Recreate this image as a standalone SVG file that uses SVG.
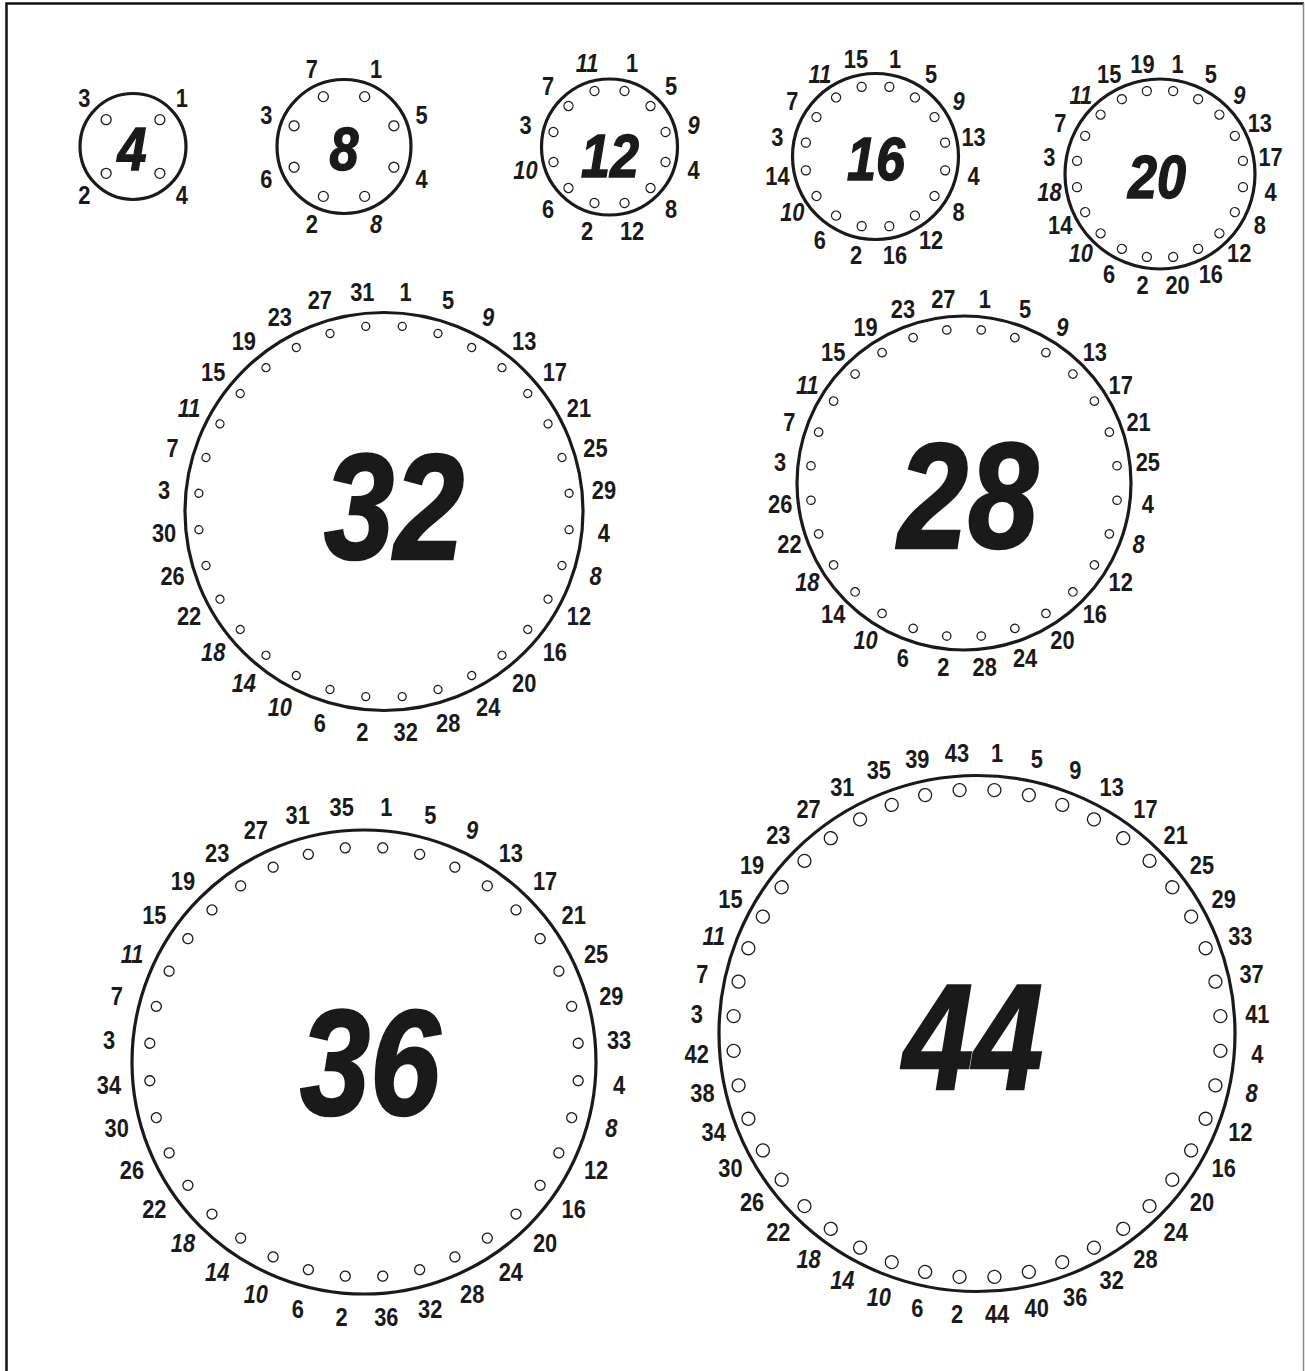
<svg xmlns="http://www.w3.org/2000/svg" width="1305" height="1371" viewBox="0 0 1305 1371">
<style>
.ring{fill:none;stroke:#1a1a1a;stroke-width:3.2}
.h{fill:none;stroke:#1a1a1a;stroke-width:1.3}
.l{font-family:"Liberation Sans",Arial,sans-serif;font-weight:bold;font-size:26px;fill:#1a1a1a;text-anchor:middle;dominant-baseline:central}
.i{font-style:italic}
.big{font-family:"Liberation Sans",Arial,sans-serif;font-weight:bold;font-style:italic;fill:#1a1a1a;stroke:#1a1a1a;stroke-width:1.5;text-anchor:middle}
.s{font-size:62px}
.b{font-size:150px;stroke-width:2.5}
</style>
<rect width="1305" height="1371" fill="#fff"/>
<path d="M6.5,1371 V3.5 H1304" fill="none" stroke="#111" stroke-width="2.5"/>
<path d="M1303.5,3 V1371" fill="none" stroke="#888" stroke-width="1.5"/>

<g id="c4" transform="translate(133,146.5)">
<circle class="ring" r="53"/>
<circle class="h" r="5" cy="-38" transform="rotate(45)"/><circle class="h" r="5" cy="-38" transform="rotate(135)"/><circle class="h" r="5" cy="-38" transform="rotate(225)"/><circle class="h" r="5" cy="-38" transform="rotate(315)"/>
<text class="l" transform="rotate(45) translate(0,-69) rotate(-45) scale(.84,1)">1</text>
<text class="l" transform="rotate(135) translate(0,-69) rotate(-135) scale(.84,1)">4</text>
<text class="l" transform="rotate(225) translate(0,-69) rotate(-225) scale(.84,1)">2</text>
<text class="l" transform="rotate(315) translate(0,-69) rotate(-315) scale(.84,1)">3</text>
<text class="big s" transform="translate(-1,23) scale(.84,1)">4</text>
</g>

<g id="c8" transform="translate(344,146.5)">
<circle class="ring" r="67"/>
<circle class="h" r="5" cy="-54" transform="rotate(22.5)"/><circle class="h" r="5" cy="-54" transform="rotate(67.5)"/><circle class="h" r="5" cy="-54" transform="rotate(112.5)"/><circle class="h" r="5" cy="-54" transform="rotate(157.5)"/><circle class="h" r="5" cy="-54" transform="rotate(202.5)"/><circle class="h" r="5" cy="-54" transform="rotate(247.5)"/><circle class="h" r="5" cy="-54" transform="rotate(292.5)"/><circle class="h" r="5" cy="-54" transform="rotate(337.5)"/>
<text class="l" transform="rotate(22.5) translate(0,-84) rotate(-22.5) scale(.84,1)">1</text>
<text class="l" transform="rotate(67.5) translate(0,-84) rotate(-67.5) scale(.84,1)">5</text>
<text class="l" transform="rotate(112.5) translate(0,-84) rotate(-112.5) scale(.84,1)">4</text>
<text class="l i" transform="rotate(157.5) translate(0,-84) rotate(-157.5) scale(.84,1)">8</text>
<text class="l" transform="rotate(202.5) translate(0,-84) rotate(-202.5) scale(.84,1)">2</text>
<text class="l" transform="rotate(247.5) translate(0,-84) rotate(-247.5) scale(.84,1)">6</text>
<text class="l" transform="rotate(292.5) translate(0,-84) rotate(-292.5) scale(.84,1)">3</text>
<text class="l" transform="rotate(337.5) translate(0,-84) rotate(-337.5) scale(.84,1)">7</text>
<text class="big s" transform="translate(0,23) scale(.84,1)">8</text>
</g>

<g id="c12" transform="translate(609.5,147)">
<circle class="ring" r="68"/>
<circle class="h" r="4.5" cy="-58" transform="rotate(15)"/><circle class="h" r="4.5" cy="-58" transform="rotate(45)"/><circle class="h" r="4.5" cy="-58" transform="rotate(75)"/><circle class="h" r="4.5" cy="-58" transform="rotate(105)"/><circle class="h" r="4.5" cy="-58" transform="rotate(135)"/><circle class="h" r="4.5" cy="-58" transform="rotate(165)"/><circle class="h" r="4.5" cy="-58" transform="rotate(195)"/><circle class="h" r="4.5" cy="-58" transform="rotate(225)"/><circle class="h" r="4.5" cy="-58" transform="rotate(255)"/><circle class="h" r="4.5" cy="-58" transform="rotate(285)"/><circle class="h" r="4.5" cy="-58" transform="rotate(315)"/><circle class="h" r="4.5" cy="-58" transform="rotate(345)"/>
<text class="l" transform="rotate(15) translate(0,-87) rotate(-15) scale(.84,1)">1</text>
<text class="l" transform="rotate(45) translate(0,-87) rotate(-45) scale(.84,1)">5</text>
<text class="l i" transform="rotate(75) translate(0,-87) rotate(-75) scale(.84,1)">9</text>
<text class="l" transform="rotate(105) translate(0,-87) rotate(-105) scale(.84,1)">4</text>
<text class="l" transform="rotate(135) translate(0,-87) rotate(-135) scale(.84,1)">8</text>
<text class="l" transform="rotate(165) translate(0,-87) rotate(-165) scale(.84,1)">12</text>
<text class="l" transform="rotate(195) translate(0,-87) rotate(-195) scale(.84,1)">2</text>
<text class="l" transform="rotate(225) translate(0,-87) rotate(-225) scale(.84,1)">6</text>
<text class="l i" transform="rotate(255) translate(0,-87) rotate(-255) scale(.84,1)">10</text>
<text class="l" transform="rotate(285) translate(0,-87) rotate(-285) scale(.84,1)">3</text>
<text class="l" transform="rotate(315) translate(0,-87) rotate(-315) scale(.84,1)">7</text>
<text class="l i" transform="rotate(345) translate(0,-87) rotate(-345) scale(.84,1)">11</text>
<text class="big s" transform="translate(0.5,30) scale(.84,1)">12</text>
</g>

<g id="c16" transform="translate(875.5,156.5)">
<circle class="ring" r="83"/>
<circle class="h" r="4.5" cy="-71" transform="rotate(11.25)"/><circle class="h" r="4.5" cy="-71" transform="rotate(33.75)"/><circle class="h" r="4.5" cy="-71" transform="rotate(56.25)"/><circle class="h" r="4.5" cy="-71" transform="rotate(78.75)"/><circle class="h" r="4.5" cy="-71" transform="rotate(101.25)"/><circle class="h" r="4.5" cy="-71" transform="rotate(123.75)"/><circle class="h" r="4.5" cy="-71" transform="rotate(146.25)"/><circle class="h" r="4.5" cy="-71" transform="rotate(168.75)"/><circle class="h" r="4.5" cy="-71" transform="rotate(191.25)"/><circle class="h" r="4.5" cy="-71" transform="rotate(213.75)"/><circle class="h" r="4.5" cy="-71" transform="rotate(236.25)"/><circle class="h" r="4.5" cy="-71" transform="rotate(258.75)"/><circle class="h" r="4.5" cy="-71" transform="rotate(281.25)"/><circle class="h" r="4.5" cy="-71" transform="rotate(303.75)"/><circle class="h" r="4.5" cy="-71" transform="rotate(326.25)"/><circle class="h" r="4.5" cy="-71" transform="rotate(348.75)"/>
<text class="l" transform="rotate(11.25) translate(0,-100) rotate(-11.25) scale(.84,1)">1</text>
<text class="l" transform="rotate(33.75) translate(0,-100) rotate(-33.75) scale(.84,1)">5</text>
<text class="l i" transform="rotate(56.25) translate(0,-100) rotate(-56.25) scale(.84,1)">9</text>
<text class="l" transform="rotate(78.75) translate(0,-100) rotate(-78.75) scale(.84,1)">13</text>
<text class="l" transform="rotate(101.25) translate(0,-100) rotate(-101.25) scale(.84,1)">4</text>
<text class="l" transform="rotate(123.75) translate(0,-100) rotate(-123.75) scale(.84,1)">8</text>
<text class="l" transform="rotate(146.25) translate(0,-100) rotate(-146.25) scale(.84,1)">12</text>
<text class="l" transform="rotate(168.75) translate(0,-100) rotate(-168.75) scale(.84,1)">16</text>
<text class="l" transform="rotate(191.25) translate(0,-100) rotate(-191.25) scale(.84,1)">2</text>
<text class="l" transform="rotate(213.75) translate(0,-100) rotate(-213.75) scale(.84,1)">6</text>
<text class="l i" transform="rotate(236.25) translate(0,-100) rotate(-236.25) scale(.84,1)">10</text>
<text class="l" transform="rotate(258.75) translate(0,-100) rotate(-258.75) scale(.84,1)">14</text>
<text class="l" transform="rotate(281.25) translate(0,-100) rotate(-281.25) scale(.84,1)">3</text>
<text class="l" transform="rotate(303.75) translate(0,-100) rotate(-303.75) scale(.84,1)">7</text>
<text class="l i" transform="rotate(326.25) translate(0,-100) rotate(-326.25) scale(.84,1)">11</text>
<text class="l" transform="rotate(348.75) translate(0,-100) rotate(-348.75) scale(.84,1)">15</text>
<text class="big s" transform="translate(0.5,23.5) scale(.84,1)">16</text>
</g>

<g id="c20" transform="translate(1160,174)">
<circle class="ring" r="95"/>
<circle class="h" r="4.5" cy="-84" transform="rotate(9)"/><circle class="h" r="4.5" cy="-84" transform="rotate(27)"/><circle class="h" r="4.5" cy="-84" transform="rotate(45)"/><circle class="h" r="4.5" cy="-84" transform="rotate(63)"/><circle class="h" r="4.5" cy="-84" transform="rotate(81)"/><circle class="h" r="4.5" cy="-84" transform="rotate(99)"/><circle class="h" r="4.5" cy="-84" transform="rotate(117)"/><circle class="h" r="4.5" cy="-84" transform="rotate(135)"/><circle class="h" r="4.5" cy="-84" transform="rotate(153)"/><circle class="h" r="4.5" cy="-84" transform="rotate(171)"/><circle class="h" r="4.5" cy="-84" transform="rotate(189)"/><circle class="h" r="4.5" cy="-84" transform="rotate(207)"/><circle class="h" r="4.5" cy="-84" transform="rotate(225)"/><circle class="h" r="4.5" cy="-84" transform="rotate(243)"/><circle class="h" r="4.5" cy="-84" transform="rotate(261)"/><circle class="h" r="4.5" cy="-84" transform="rotate(279)"/><circle class="h" r="4.5" cy="-84" transform="rotate(297)"/><circle class="h" r="4.5" cy="-84" transform="rotate(315)"/><circle class="h" r="4.5" cy="-84" transform="rotate(333)"/><circle class="h" r="4.5" cy="-84" transform="rotate(351)"/>
<text class="l" transform="rotate(9) translate(0,-112) rotate(-9) scale(.84,1)">1</text>
<text class="l" transform="rotate(27) translate(0,-112) rotate(-27) scale(.84,1)">5</text>
<text class="l i" transform="rotate(45) translate(0,-112) rotate(-45) scale(.84,1)">9</text>
<text class="l" transform="rotate(63) translate(0,-112) rotate(-63) scale(.84,1)">13</text>
<text class="l" transform="rotate(81) translate(0,-112) rotate(-81) scale(.84,1)">17</text>
<text class="l" transform="rotate(99) translate(0,-112) rotate(-99) scale(.84,1)">4</text>
<text class="l" transform="rotate(117) translate(0,-112) rotate(-117) scale(.84,1)">8</text>
<text class="l" transform="rotate(135) translate(0,-112) rotate(-135) scale(.84,1)">12</text>
<text class="l" transform="rotate(153) translate(0,-112) rotate(-153) scale(.84,1)">16</text>
<text class="l" transform="rotate(171) translate(0,-112) rotate(-171) scale(.84,1)">20</text>
<text class="l" transform="rotate(189) translate(0,-112) rotate(-189) scale(.84,1)">2</text>
<text class="l" transform="rotate(207) translate(0,-112) rotate(-207) scale(.84,1)">6</text>
<text class="l i" transform="rotate(225) translate(0,-112) rotate(-225) scale(.84,1)">10</text>
<text class="l" transform="rotate(243) translate(0,-112) rotate(-243) scale(.84,1)">14</text>
<text class="l i" transform="rotate(261) translate(0,-112) rotate(-261) scale(.84,1)">18</text>
<text class="l" transform="rotate(279) translate(0,-112) rotate(-279) scale(.84,1)">3</text>
<text class="l" transform="rotate(297) translate(0,-112) rotate(-297) scale(.84,1)">7</text>
<text class="l i" transform="rotate(315) translate(0,-112) rotate(-315) scale(.84,1)">11</text>
<text class="l" transform="rotate(333) translate(0,-112) rotate(-333) scale(.84,1)">15</text>
<text class="l" transform="rotate(351) translate(0,-112) rotate(-351) scale(.84,1)">19</text>
<text class="big s" transform="translate(-3,24) scale(.84,1)">20</text>
</g>

<g id="c32" transform="translate(384,511.5)">
<circle class="ring" r="199"/>
<circle class="h" r="4" cy="-186" transform="rotate(5.625)"/><circle class="h" r="4" cy="-186" transform="rotate(16.875)"/><circle class="h" r="4" cy="-186" transform="rotate(28.125)"/><circle class="h" r="4" cy="-186" transform="rotate(39.375)"/><circle class="h" r="4" cy="-186" transform="rotate(50.625)"/><circle class="h" r="4" cy="-186" transform="rotate(61.875)"/><circle class="h" r="4" cy="-186" transform="rotate(73.125)"/><circle class="h" r="4" cy="-186" transform="rotate(84.375)"/><circle class="h" r="4" cy="-186" transform="rotate(95.625)"/><circle class="h" r="4" cy="-186" transform="rotate(106.875)"/><circle class="h" r="4" cy="-186" transform="rotate(118.125)"/><circle class="h" r="4" cy="-186" transform="rotate(129.375)"/><circle class="h" r="4" cy="-186" transform="rotate(140.625)"/><circle class="h" r="4" cy="-186" transform="rotate(151.875)"/><circle class="h" r="4" cy="-186" transform="rotate(163.125)"/><circle class="h" r="4" cy="-186" transform="rotate(174.375)"/><circle class="h" r="4" cy="-186" transform="rotate(185.625)"/><circle class="h" r="4" cy="-186" transform="rotate(196.875)"/><circle class="h" r="4" cy="-186" transform="rotate(208.125)"/><circle class="h" r="4" cy="-186" transform="rotate(219.375)"/><circle class="h" r="4" cy="-186" transform="rotate(230.625)"/><circle class="h" r="4" cy="-186" transform="rotate(241.875)"/><circle class="h" r="4" cy="-186" transform="rotate(253.125)"/><circle class="h" r="4" cy="-186" transform="rotate(264.375)"/><circle class="h" r="4" cy="-186" transform="rotate(275.625)"/><circle class="h" r="4" cy="-186" transform="rotate(286.875)"/><circle class="h" r="4" cy="-186" transform="rotate(298.125)"/><circle class="h" r="4" cy="-186" transform="rotate(309.375)"/><circle class="h" r="4" cy="-186" transform="rotate(320.625)"/><circle class="h" r="4" cy="-186" transform="rotate(331.875)"/><circle class="h" r="4" cy="-186" transform="rotate(343.125)"/><circle class="h" r="4" cy="-186" transform="rotate(354.375)"/>
<text class="l" transform="rotate(5.625) translate(0,-221) rotate(-5.625) scale(.84,1)">1</text>
<text class="l" transform="rotate(16.875) translate(0,-221) rotate(-16.875) scale(.84,1)">5</text>
<text class="l i" transform="rotate(28.125) translate(0,-221) rotate(-28.125) scale(.84,1)">9</text>
<text class="l" transform="rotate(39.375) translate(0,-221) rotate(-39.375) scale(.84,1)">13</text>
<text class="l" transform="rotate(50.625) translate(0,-221) rotate(-50.625) scale(.84,1)">17</text>
<text class="l" transform="rotate(61.875) translate(0,-221) rotate(-61.875) scale(.84,1)">21</text>
<text class="l" transform="rotate(73.125) translate(0,-221) rotate(-73.125) scale(.84,1)">25</text>
<text class="l" transform="rotate(84.375) translate(0,-221) rotate(-84.375) scale(.84,1)">29</text>
<text class="l" transform="rotate(95.625) translate(0,-221) rotate(-95.625) scale(.84,1)">4</text>
<text class="l i" transform="rotate(106.875) translate(0,-221) rotate(-106.875) scale(.84,1)">8</text>
<text class="l" transform="rotate(118.125) translate(0,-221) rotate(-118.125) scale(.84,1)">12</text>
<text class="l" transform="rotate(129.375) translate(0,-221) rotate(-129.375) scale(.84,1)">16</text>
<text class="l" transform="rotate(140.625) translate(0,-221) rotate(-140.625) scale(.84,1)">20</text>
<text class="l" transform="rotate(151.875) translate(0,-221) rotate(-151.875) scale(.84,1)">24</text>
<text class="l" transform="rotate(163.125) translate(0,-221) rotate(-163.125) scale(.84,1)">28</text>
<text class="l" transform="rotate(174.375) translate(0,-221) rotate(-174.375) scale(.84,1)">32</text>
<text class="l" transform="rotate(185.625) translate(0,-221) rotate(-185.625) scale(.84,1)">2</text>
<text class="l" transform="rotate(196.875) translate(0,-221) rotate(-196.875) scale(.84,1)">6</text>
<text class="l i" transform="rotate(208.125) translate(0,-221) rotate(-208.125) scale(.84,1)">10</text>
<text class="l i" transform="rotate(219.375) translate(0,-221) rotate(-219.375) scale(.84,1)">14</text>
<text class="l i" transform="rotate(230.625) translate(0,-221) rotate(-230.625) scale(.84,1)">18</text>
<text class="l" transform="rotate(241.875) translate(0,-221) rotate(-241.875) scale(.84,1)">22</text>
<text class="l" transform="rotate(253.125) translate(0,-221) rotate(-253.125) scale(.84,1)">26</text>
<text class="l" transform="rotate(264.375) translate(0,-221) rotate(-264.375) scale(.84,1)">30</text>
<text class="l" transform="rotate(275.625) translate(0,-221) rotate(-275.625) scale(.84,1)">3</text>
<text class="l" transform="rotate(286.875) translate(0,-221) rotate(-286.875) scale(.84,1)">7</text>
<text class="l i" transform="rotate(298.125) translate(0,-221) rotate(-298.125) scale(.84,1)">11</text>
<text class="l" transform="rotate(309.375) translate(0,-221) rotate(-309.375) scale(.84,1)">15</text>
<text class="l" transform="rotate(320.625) translate(0,-221) rotate(-320.625) scale(.84,1)">19</text>
<text class="l" transform="rotate(331.875) translate(0,-221) rotate(-331.875) scale(.84,1)">23</text>
<text class="l" transform="rotate(343.125) translate(0,-221) rotate(-343.125) scale(.84,1)">27</text>
<text class="l" transform="rotate(354.375) translate(0,-221) rotate(-354.375) scale(.84,1)">31</text>
<text class="big b" transform="translate(10,47) scale(.84,1)">32</text>
</g>

<g id="c28" transform="translate(964,483)">
<circle class="ring" r="167"/>
<circle class="h" r="4.2" cy="-154" transform="rotate(6.4286)"/><circle class="h" r="4.2" cy="-154" transform="rotate(19.2857)"/><circle class="h" r="4.2" cy="-154" transform="rotate(32.1429)"/><circle class="h" r="4.2" cy="-154" transform="rotate(45)"/><circle class="h" r="4.2" cy="-154" transform="rotate(57.8571)"/><circle class="h" r="4.2" cy="-154" transform="rotate(70.7143)"/><circle class="h" r="4.2" cy="-154" transform="rotate(83.5714)"/><circle class="h" r="4.2" cy="-154" transform="rotate(96.4286)"/><circle class="h" r="4.2" cy="-154" transform="rotate(109.2857)"/><circle class="h" r="4.2" cy="-154" transform="rotate(122.1429)"/><circle class="h" r="4.2" cy="-154" transform="rotate(135)"/><circle class="h" r="4.2" cy="-154" transform="rotate(147.8571)"/><circle class="h" r="4.2" cy="-154" transform="rotate(160.7143)"/><circle class="h" r="4.2" cy="-154" transform="rotate(173.5714)"/><circle class="h" r="4.2" cy="-154" transform="rotate(186.4286)"/><circle class="h" r="4.2" cy="-154" transform="rotate(199.2857)"/><circle class="h" r="4.2" cy="-154" transform="rotate(212.1429)"/><circle class="h" r="4.2" cy="-154" transform="rotate(225)"/><circle class="h" r="4.2" cy="-154" transform="rotate(237.8571)"/><circle class="h" r="4.2" cy="-154" transform="rotate(250.7143)"/><circle class="h" r="4.2" cy="-154" transform="rotate(263.5714)"/><circle class="h" r="4.2" cy="-154" transform="rotate(276.4286)"/><circle class="h" r="4.2" cy="-154" transform="rotate(289.2857)"/><circle class="h" r="4.2" cy="-154" transform="rotate(302.1429)"/><circle class="h" r="4.2" cy="-154" transform="rotate(315)"/><circle class="h" r="4.2" cy="-154" transform="rotate(327.8571)"/><circle class="h" r="4.2" cy="-154" transform="rotate(340.7143)"/><circle class="h" r="4.2" cy="-154" transform="rotate(353.5714)"/>
<text class="l" transform="rotate(6.4286) translate(0,-185) rotate(-6.4286) scale(.84,1)">1</text>
<text class="l" transform="rotate(19.2857) translate(0,-185) rotate(-19.2857) scale(.84,1)">5</text>
<text class="l i" transform="rotate(32.1429) translate(0,-185) rotate(-32.1429) scale(.84,1)">9</text>
<text class="l" transform="rotate(45) translate(0,-185) rotate(-45) scale(.84,1)">13</text>
<text class="l" transform="rotate(57.8571) translate(0,-185) rotate(-57.8571) scale(.84,1)">17</text>
<text class="l" transform="rotate(70.7143) translate(0,-185) rotate(-70.7143) scale(.84,1)">21</text>
<text class="l" transform="rotate(83.5714) translate(0,-185) rotate(-83.5714) scale(.84,1)">25</text>
<text class="l" transform="rotate(96.4286) translate(0,-185) rotate(-96.4286) scale(.84,1)">4</text>
<text class="l i" transform="rotate(109.2857) translate(0,-185) rotate(-109.2857) scale(.84,1)">8</text>
<text class="l" transform="rotate(122.1429) translate(0,-185) rotate(-122.1429) scale(.84,1)">12</text>
<text class="l" transform="rotate(135) translate(0,-185) rotate(-135) scale(.84,1)">16</text>
<text class="l" transform="rotate(147.8571) translate(0,-185) rotate(-147.8571) scale(.84,1)">20</text>
<text class="l" transform="rotate(160.7143) translate(0,-185) rotate(-160.7143) scale(.84,1)">24</text>
<text class="l" transform="rotate(173.5714) translate(0,-185) rotate(-173.5714) scale(.84,1)">28</text>
<text class="l" transform="rotate(186.4286) translate(0,-185) rotate(-186.4286) scale(.84,1)">2</text>
<text class="l" transform="rotate(199.2857) translate(0,-185) rotate(-199.2857) scale(.84,1)">6</text>
<text class="l i" transform="rotate(212.1429) translate(0,-185) rotate(-212.1429) scale(.84,1)">10</text>
<text class="l" transform="rotate(225) translate(0,-185) rotate(-225) scale(.84,1)">14</text>
<text class="l i" transform="rotate(237.8571) translate(0,-185) rotate(-237.8571) scale(.84,1)">18</text>
<text class="l" transform="rotate(250.7143) translate(0,-185) rotate(-250.7143) scale(.84,1)">22</text>
<text class="l" transform="rotate(263.5714) translate(0,-185) rotate(-263.5714) scale(.84,1)">26</text>
<text class="l" transform="rotate(276.4286) translate(0,-185) rotate(-276.4286) scale(.84,1)">3</text>
<text class="l" transform="rotate(289.2857) translate(0,-185) rotate(-289.2857) scale(.84,1)">7</text>
<text class="l i" transform="rotate(302.1429) translate(0,-185) rotate(-302.1429) scale(.84,1)">11</text>
<text class="l" transform="rotate(315) translate(0,-185) rotate(-315) scale(.84,1)">15</text>
<text class="l" transform="rotate(327.8571) translate(0,-185) rotate(-327.8571) scale(.84,1)">19</text>
<text class="l" transform="rotate(340.7143) translate(0,-185) rotate(-340.7143) scale(.84,1)">23</text>
<text class="l" transform="rotate(353.5714) translate(0,-185) rotate(-353.5714) scale(.84,1)">27</text>
<text class="big b" transform="translate(4,65) scale(.84,1)">28</text>
</g>

<g id="c36" transform="translate(364,1062)">
<circle class="ring" r="232"/>
<circle class="h" r="5" cy="-215" transform="rotate(5)"/><circle class="h" r="5" cy="-215" transform="rotate(15)"/><circle class="h" r="5" cy="-215" transform="rotate(25)"/><circle class="h" r="5" cy="-215" transform="rotate(35)"/><circle class="h" r="5" cy="-215" transform="rotate(45)"/><circle class="h" r="5" cy="-215" transform="rotate(55)"/><circle class="h" r="5" cy="-215" transform="rotate(65)"/><circle class="h" r="5" cy="-215" transform="rotate(75)"/><circle class="h" r="5" cy="-215" transform="rotate(85)"/><circle class="h" r="5" cy="-215" transform="rotate(95)"/><circle class="h" r="5" cy="-215" transform="rotate(105)"/><circle class="h" r="5" cy="-215" transform="rotate(115)"/><circle class="h" r="5" cy="-215" transform="rotate(125)"/><circle class="h" r="5" cy="-215" transform="rotate(135)"/><circle class="h" r="5" cy="-215" transform="rotate(145)"/><circle class="h" r="5" cy="-215" transform="rotate(155)"/><circle class="h" r="5" cy="-215" transform="rotate(165)"/><circle class="h" r="5" cy="-215" transform="rotate(175)"/><circle class="h" r="5" cy="-215" transform="rotate(185)"/><circle class="h" r="5" cy="-215" transform="rotate(195)"/><circle class="h" r="5" cy="-215" transform="rotate(205)"/><circle class="h" r="5" cy="-215" transform="rotate(215)"/><circle class="h" r="5" cy="-215" transform="rotate(225)"/><circle class="h" r="5" cy="-215" transform="rotate(235)"/><circle class="h" r="5" cy="-215" transform="rotate(245)"/><circle class="h" r="5" cy="-215" transform="rotate(255)"/><circle class="h" r="5" cy="-215" transform="rotate(265)"/><circle class="h" r="5" cy="-215" transform="rotate(275)"/><circle class="h" r="5" cy="-215" transform="rotate(285)"/><circle class="h" r="5" cy="-215" transform="rotate(295)"/><circle class="h" r="5" cy="-215" transform="rotate(305)"/><circle class="h" r="5" cy="-215" transform="rotate(315)"/><circle class="h" r="5" cy="-215" transform="rotate(325)"/><circle class="h" r="5" cy="-215" transform="rotate(335)"/><circle class="h" r="5" cy="-215" transform="rotate(345)"/><circle class="h" r="5" cy="-215" transform="rotate(355)"/>
<text class="l" transform="rotate(5) translate(0,-256) rotate(-5) scale(.84,1)">1</text>
<text class="l" transform="rotate(15) translate(0,-256) rotate(-15) scale(.84,1)">5</text>
<text class="l i" transform="rotate(25) translate(0,-256) rotate(-25) scale(.84,1)">9</text>
<text class="l" transform="rotate(35) translate(0,-256) rotate(-35) scale(.84,1)">13</text>
<text class="l" transform="rotate(45) translate(0,-256) rotate(-45) scale(.84,1)">17</text>
<text class="l" transform="rotate(55) translate(0,-256) rotate(-55) scale(.84,1)">21</text>
<text class="l" transform="rotate(65) translate(0,-256) rotate(-65) scale(.84,1)">25</text>
<text class="l" transform="rotate(75) translate(0,-256) rotate(-75) scale(.84,1)">29</text>
<text class="l" transform="rotate(85) translate(0,-256) rotate(-85) scale(.84,1)">33</text>
<text class="l" transform="rotate(95) translate(0,-256) rotate(-95) scale(.84,1)">4</text>
<text class="l i" transform="rotate(105) translate(0,-256) rotate(-105) scale(.84,1)">8</text>
<text class="l" transform="rotate(115) translate(0,-256) rotate(-115) scale(.84,1)">12</text>
<text class="l" transform="rotate(125) translate(0,-256) rotate(-125) scale(.84,1)">16</text>
<text class="l" transform="rotate(135) translate(0,-256) rotate(-135) scale(.84,1)">20</text>
<text class="l" transform="rotate(145) translate(0,-256) rotate(-145) scale(.84,1)">24</text>
<text class="l" transform="rotate(155) translate(0,-256) rotate(-155) scale(.84,1)">28</text>
<text class="l" transform="rotate(165) translate(0,-256) rotate(-165) scale(.84,1)">32</text>
<text class="l" transform="rotate(175) translate(0,-256) rotate(-175) scale(.84,1)">36</text>
<text class="l" transform="rotate(185) translate(0,-256) rotate(-185) scale(.84,1)">2</text>
<text class="l" transform="rotate(195) translate(0,-256) rotate(-195) scale(.84,1)">6</text>
<text class="l i" transform="rotate(205) translate(0,-256) rotate(-205) scale(.84,1)">10</text>
<text class="l i" transform="rotate(215) translate(0,-256) rotate(-215) scale(.84,1)">14</text>
<text class="l i" transform="rotate(225) translate(0,-256) rotate(-225) scale(.84,1)">18</text>
<text class="l" transform="rotate(235) translate(0,-256) rotate(-235) scale(.84,1)">22</text>
<text class="l" transform="rotate(245) translate(0,-256) rotate(-245) scale(.84,1)">26</text>
<text class="l" transform="rotate(255) translate(0,-256) rotate(-255) scale(.84,1)">30</text>
<text class="l" transform="rotate(265) translate(0,-256) rotate(-265) scale(.84,1)">34</text>
<text class="l" transform="rotate(275) translate(0,-256) rotate(-275) scale(.84,1)">3</text>
<text class="l" transform="rotate(285) translate(0,-256) rotate(-285) scale(.84,1)">7</text>
<text class="l i" transform="rotate(295) translate(0,-256) rotate(-295) scale(.84,1)">11</text>
<text class="l" transform="rotate(305) translate(0,-256) rotate(-305) scale(.84,1)">15</text>
<text class="l" transform="rotate(315) translate(0,-256) rotate(-315) scale(.84,1)">19</text>
<text class="l" transform="rotate(325) translate(0,-256) rotate(-325) scale(.84,1)">23</text>
<text class="l" transform="rotate(335) translate(0,-256) rotate(-335) scale(.84,1)">27</text>
<text class="l" transform="rotate(345) translate(0,-256) rotate(-345) scale(.84,1)">31</text>
<text class="l" transform="rotate(355) translate(0,-256) rotate(-355) scale(.84,1)">35</text>
<text class="big b" transform="translate(6,53) scale(.84,1)">36</text>
</g>

<g id="c44" transform="translate(977,1033.5)">
<circle class="ring" r="258"/>
<circle class="h" r="6.5" cy="-244" transform="rotate(4.0909)"/><circle class="h" r="6.5" cy="-244" transform="rotate(12.2727)"/><circle class="h" r="6.5" cy="-244" transform="rotate(20.4545)"/><circle class="h" r="6.5" cy="-244" transform="rotate(28.6364)"/><circle class="h" r="6.5" cy="-244" transform="rotate(36.8182)"/><circle class="h" r="6.5" cy="-244" transform="rotate(45)"/><circle class="h" r="6.5" cy="-244" transform="rotate(53.1818)"/><circle class="h" r="6.5" cy="-244" transform="rotate(61.3636)"/><circle class="h" r="6.5" cy="-244" transform="rotate(69.5455)"/><circle class="h" r="6.5" cy="-244" transform="rotate(77.7273)"/><circle class="h" r="6.5" cy="-244" transform="rotate(85.9091)"/><circle class="h" r="6.5" cy="-244" transform="rotate(94.0909)"/><circle class="h" r="6.5" cy="-244" transform="rotate(102.2727)"/><circle class="h" r="6.5" cy="-244" transform="rotate(110.4545)"/><circle class="h" r="6.5" cy="-244" transform="rotate(118.6364)"/><circle class="h" r="6.5" cy="-244" transform="rotate(126.8182)"/><circle class="h" r="6.5" cy="-244" transform="rotate(135)"/><circle class="h" r="6.5" cy="-244" transform="rotate(143.1818)"/><circle class="h" r="6.5" cy="-244" transform="rotate(151.3636)"/><circle class="h" r="6.5" cy="-244" transform="rotate(159.5455)"/><circle class="h" r="6.5" cy="-244" transform="rotate(167.7273)"/><circle class="h" r="6.5" cy="-244" transform="rotate(175.9091)"/><circle class="h" r="6.5" cy="-244" transform="rotate(184.0909)"/><circle class="h" r="6.5" cy="-244" transform="rotate(192.2727)"/><circle class="h" r="6.5" cy="-244" transform="rotate(200.4545)"/><circle class="h" r="6.5" cy="-244" transform="rotate(208.6364)"/><circle class="h" r="6.5" cy="-244" transform="rotate(216.8182)"/><circle class="h" r="6.5" cy="-244" transform="rotate(225)"/><circle class="h" r="6.5" cy="-244" transform="rotate(233.1818)"/><circle class="h" r="6.5" cy="-244" transform="rotate(241.3636)"/><circle class="h" r="6.5" cy="-244" transform="rotate(249.5455)"/><circle class="h" r="6.5" cy="-244" transform="rotate(257.7273)"/><circle class="h" r="6.5" cy="-244" transform="rotate(265.9091)"/><circle class="h" r="6.5" cy="-244" transform="rotate(274.0909)"/><circle class="h" r="6.5" cy="-244" transform="rotate(282.2727)"/><circle class="h" r="6.5" cy="-244" transform="rotate(290.4545)"/><circle class="h" r="6.5" cy="-244" transform="rotate(298.6364)"/><circle class="h" r="6.5" cy="-244" transform="rotate(306.8182)"/><circle class="h" r="6.5" cy="-244" transform="rotate(315)"/><circle class="h" r="6.5" cy="-244" transform="rotate(323.1818)"/><circle class="h" r="6.5" cy="-244" transform="rotate(331.3636)"/><circle class="h" r="6.5" cy="-244" transform="rotate(339.5455)"/><circle class="h" r="6.5" cy="-244" transform="rotate(347.7273)"/><circle class="h" r="6.5" cy="-244" transform="rotate(355.9091)"/>
<text class="l" transform="rotate(4.0909) translate(0,-281) rotate(-4.0909) scale(.84,1)">1</text>
<text class="l" transform="rotate(12.2727) translate(0,-281) rotate(-12.2727) scale(.84,1)">5</text>
<text class="l" transform="rotate(20.4545) translate(0,-281) rotate(-20.4545) scale(.84,1)">9</text>
<text class="l" transform="rotate(28.6364) translate(0,-281) rotate(-28.6364) scale(.84,1)">13</text>
<text class="l" transform="rotate(36.8182) translate(0,-281) rotate(-36.8182) scale(.84,1)">17</text>
<text class="l" transform="rotate(45) translate(0,-281) rotate(-45) scale(.84,1)">21</text>
<text class="l" transform="rotate(53.1818) translate(0,-281) rotate(-53.1818) scale(.84,1)">25</text>
<text class="l" transform="rotate(61.3636) translate(0,-281) rotate(-61.3636) scale(.84,1)">29</text>
<text class="l" transform="rotate(69.5455) translate(0,-281) rotate(-69.5455) scale(.84,1)">33</text>
<text class="l" transform="rotate(77.7273) translate(0,-281) rotate(-77.7273) scale(.84,1)">37</text>
<text class="l" transform="rotate(85.9091) translate(0,-281) rotate(-85.9091) scale(.84,1)">41</text>
<text class="l" transform="rotate(94.0909) translate(0,-281) rotate(-94.0909) scale(.84,1)">4</text>
<text class="l i" transform="rotate(102.2727) translate(0,-281) rotate(-102.2727) scale(.84,1)">8</text>
<text class="l" transform="rotate(110.4545) translate(0,-281) rotate(-110.4545) scale(.84,1)">12</text>
<text class="l" transform="rotate(118.6364) translate(0,-281) rotate(-118.6364) scale(.84,1)">16</text>
<text class="l" transform="rotate(126.8182) translate(0,-281) rotate(-126.8182) scale(.84,1)">20</text>
<text class="l" transform="rotate(135) translate(0,-281) rotate(-135) scale(.84,1)">24</text>
<text class="l" transform="rotate(143.1818) translate(0,-281) rotate(-143.1818) scale(.84,1)">28</text>
<text class="l" transform="rotate(151.3636) translate(0,-281) rotate(-151.3636) scale(.84,1)">32</text>
<text class="l" transform="rotate(159.5455) translate(0,-281) rotate(-159.5455) scale(.84,1)">36</text>
<text class="l" transform="rotate(167.7273) translate(0,-281) rotate(-167.7273) scale(.84,1)">40</text>
<text class="l" transform="rotate(175.9091) translate(0,-281) rotate(-175.9091) scale(.84,1)">44</text>
<text class="l" transform="rotate(184.0909) translate(0,-281) rotate(-184.0909) scale(.84,1)">2</text>
<text class="l" transform="rotate(192.2727) translate(0,-281) rotate(-192.2727) scale(.84,1)">6</text>
<text class="l i" transform="rotate(200.4545) translate(0,-281) rotate(-200.4545) scale(.84,1)">10</text>
<text class="l i" transform="rotate(208.6364) translate(0,-281) rotate(-208.6364) scale(.84,1)">14</text>
<text class="l i" transform="rotate(216.8182) translate(0,-281) rotate(-216.8182) scale(.84,1)">18</text>
<text class="l" transform="rotate(225) translate(0,-281) rotate(-225) scale(.84,1)">22</text>
<text class="l" transform="rotate(233.1818) translate(0,-281) rotate(-233.1818) scale(.84,1)">26</text>
<text class="l" transform="rotate(241.3636) translate(0,-281) rotate(-241.3636) scale(.84,1)">30</text>
<text class="l" transform="rotate(249.5455) translate(0,-281) rotate(-249.5455) scale(.84,1)">34</text>
<text class="l" transform="rotate(257.7273) translate(0,-281) rotate(-257.7273) scale(.84,1)">38</text>
<text class="l" transform="rotate(265.9091) translate(0,-281) rotate(-265.9091) scale(.84,1)">42</text>
<text class="l" transform="rotate(274.0909) translate(0,-281) rotate(-274.0909) scale(.84,1)">3</text>
<text class="l" transform="rotate(282.2727) translate(0,-281) rotate(-282.2727) scale(.84,1)">7</text>
<text class="l i" transform="rotate(290.4545) translate(0,-281) rotate(-290.4545) scale(.84,1)">11</text>
<text class="l" transform="rotate(298.6364) translate(0,-281) rotate(-298.6364) scale(.84,1)">15</text>
<text class="l" transform="rotate(306.8182) translate(0,-281) rotate(-306.8182) scale(.84,1)">19</text>
<text class="l" transform="rotate(315) translate(0,-281) rotate(-315) scale(.84,1)">23</text>
<text class="l" transform="rotate(323.1818) translate(0,-281) rotate(-323.1818) scale(.84,1)">27</text>
<text class="l" transform="rotate(331.3636) translate(0,-281) rotate(-331.3636) scale(.84,1)">31</text>
<text class="l" transform="rotate(339.5455) translate(0,-281) rotate(-339.5455) scale(.84,1)">35</text>
<text class="l" transform="rotate(347.7273) translate(0,-281) rotate(-347.7273) scale(.84,1)">39</text>
<text class="l" transform="rotate(355.9091) translate(0,-281) rotate(-355.9091) scale(.84,1)">43</text>
<text class="big b" transform="translate(-4,55) scale(.84,1)">44</text>
</g>
</svg>
